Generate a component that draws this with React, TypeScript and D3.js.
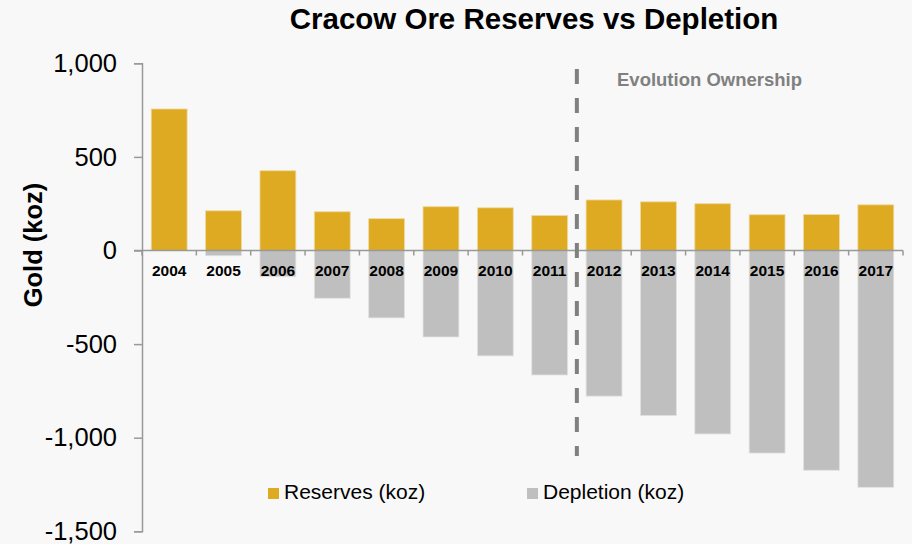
import React, { useRef, useEffect } from 'react';
import * as d3 from 'd3';

// Chart data
const YEARS = ['2004', '2005', '2006', '2007', '2008', '2009', '2010', '2011', '2012', '2013', '2014', '2015', '2016', '2017'];
const RESERVES = [756, 212, 426, 207, 170, 234, 228, 187, 270, 260, 250, 191, 192, 244];
const DEPLETION = [0, -28, -140, -255, -360, -462, -563, -665, -778, -882, -980, -1082, -1174, -1265];
const Y_TICKS = [1000, 500, 0, -500, -1000, -1500];
const OWNERSHIP_START = '2012';

const GOLD = '#DDAA22';
const GREY = '#BFBFBF';
const FONT = '"Liberation Sans", Arial, sans-serif';

const W = 912;
const H = 544;

const App: React.FC = () => {
  const svgRef = useRef<SVGSVGElement>(null);

  useEffect(() => {
    if (!svgRef.current) return;
    const svg = d3.select(svgRef.current);
    svg.selectAll('*').remove();

    const left = 142;
    const right = 903;

    svg.append('rect').attr('width', W).attr('height', H).attr('fill', '#F8F8F8');

    const x = d3.scaleBand<string>()
      .domain(YEARS)
      .range([left, right])
      .paddingInner(0.34)
      .paddingOuter(0.17);

    const y = d3.scaleLinear().domain([-1500, 1000]).range([531.3, 63.3]);

    // Title
    svg.append('text')
      .attr('x', 534)
      .attr('y', 29)
      .attr('text-anchor', 'middle')
      .attr('font-family', FONT)
      .attr('font-weight', 'bold')
      .attr('font-size', 29.5)
      .attr('fill', '#000')
      .text('Cracow Ore Reserves vs Depletion');

    // Depletion bars (below zero)
    svg.append('g')
      .selectAll('rect')
      .data(DEPLETION)
      .join('rect')
      .attr('x', (d, i) => x(YEARS[i])!)
      .attr('y', y(0))
      .attr('width', x.bandwidth())
      .attr('height', d => y(d) - y(0))
      .attr('fill', GREY)
      .attr('stroke', '#e2e2e2')
      .attr('stroke-width', 0.8);

    // Reserves bars (above zero)
    svg.append('g')
      .selectAll('rect')
      .data(RESERVES)
      .join('rect')
      .attr('x', (d, i) => x(YEARS[i])!)
      .attr('y', d => y(d))
      .attr('width', x.bandwidth())
      .attr('height', d => y(0) - y(d))
      .attr('fill', GOLD)
      .attr('stroke', '#f0d9a0')
      .attr('stroke-width', 0.8);

    // Y axis (plain hyphen for negatives, as in the source)
    const fmt = d3.format(',');
    const yAxis = svg.append('g')
      .attr('transform', `translate(${left},0)`)
      .call(d3.axisLeft(y).tickValues(Y_TICKS).tickSize(8).tickPadding(17)
        .tickFormat(d => fmt(d as number).replace('\u2212', '-')));
    yAxis.select('.domain').attr('stroke', '#999').attr('stroke-width', 1.5);
    yAxis.selectAll('.tick line').attr('stroke', '#999').attr('stroke-width', 1.5);
    yAxis.selectAll('.tick text')
      .attr('font-family', FONT)
      .attr('font-size', 25.5)
      .attr('fill', '#000');

    // X axis along zero with ticks at band boundaries
    const zeroY = y(0);
    svg.append('line')
      .attr('x1', left - 8).attr('x2', right)
      .attr('y1', zeroY).attr('y2', zeroY)
      .attr('stroke', '#999').attr('stroke-width', 1.5);
    const step = x.step();
    svg.append('g')
      .selectAll('line')
      .data(d3.range(YEARS.length + 1))
      .join('line')
      .attr('x1', i => left + i * step)
      .attr('x2', i => left + i * step)
      .attr('y1', zeroY)
      .attr('y2', zeroY + 5)
      .attr('stroke', '#999')
      .attr('stroke-width', 1.5);

    // Year labels
    svg.append('g')
      .selectAll('text')
      .data(YEARS)
      .join('text')
      .attr('x', d => x(d)! + x.bandwidth() / 2)
      .attr('y', zeroY + 25)
      .attr('text-anchor', 'middle')
      .attr('font-family', FONT)
      .attr('font-weight', 'bold')
      .attr('font-size', 15.5)
      .attr('fill', '#000')
      .text(d => d);

    // Y axis label
    svg.append('text')
      .attr('transform', `translate(42,${245}) rotate(-90)`)
      .attr('text-anchor', 'middle')
      .attr('font-family', FONT)
      .attr('font-weight', 'bold')
      .attr('font-size', 25.5)
      .attr('fill', '#000')
      .text('Gold (koz)');

    // Ownership divider
    const divX = x(OWNERSHIP_START)! - step * 0.17;
    svg.append('line')
      .attr('x1', divX).attr('x2', divX)
      .attr('y1', 69).attr('y2', 456)
      .attr('stroke', '#808080')
      .attr('stroke-width', 4)
      .attr('stroke-dasharray', '15,14');

    svg.append('text')
      .attr('x', 617)
      .attr('y', 86)
      .attr('font-family', FONT)
      .attr('font-weight', 'bold')
      .attr('font-size', 18.5)
      .attr('fill', '#808080')
      .text('Evolution Ownership');

    // Legend
    const legend = [
      { label: 'Reserves (koz)', color: GOLD, x: 268 },
      { label: 'Depletion (koz)', color: GREY, x: 527 },
    ];
    const lg = svg.append('g')
      .selectAll('g')
      .data(legend)
      .join('g')
      .attr('transform', d => `translate(${d.x},488)`);
    lg.append('rect').attr('width', 11).attr('height', 11).attr('fill', d => d.color);
    lg.append('text')
      .attr('x', 16)
      .attr('y', 11)
      .attr('font-family', FONT)
      .attr('font-size', 21)
      .attr('fill', '#000')
      .text(d => d.label);
  }, []);

  return (
    <svg
      ref={svgRef}
      width={W}
      height={H}
      style={{ position: 'absolute', left: 0, top: 0 }}
    />
  );
};

export default App;
